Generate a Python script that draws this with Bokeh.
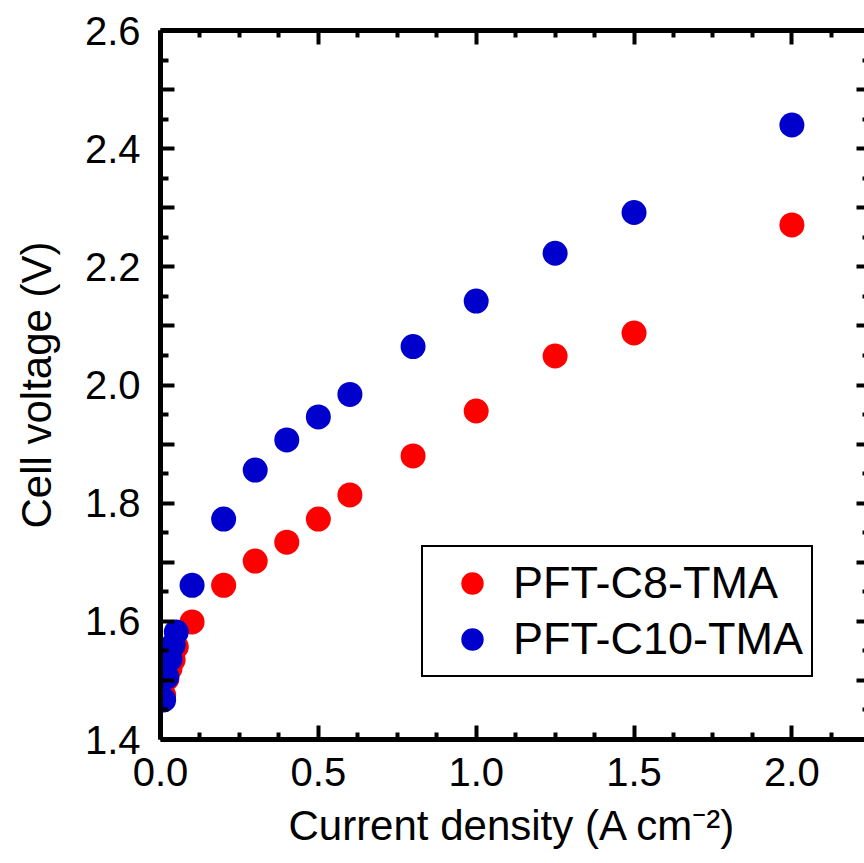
from bokeh.plotting import figure
from bokeh.models import Range1d, FixedTicker, LinearAxis, Legend, LegendItem
from bokeh.embed import file_html
from bokeh.resources import INLINE

# ---- data ----
current_c8 = [0.01, 0.02, 0.03, 0.04, 0.05, 0.1, 0.2, 0.3, 0.4, 0.5, 0.6, 0.8, 1.0, 1.25, 1.5, 2.0]
voltage_c8 = [1.475, 1.503, 1.52, 1.535, 1.557, 1.599, 1.661, 1.702, 1.734, 1.773, 1.814, 1.880, 1.956, 2.049, 2.088, 2.271]
current_c10 = [0.01, 0.02, 0.03, 0.04, 0.05, 0.1, 0.2, 0.3, 0.4, 0.5, 0.6, 0.8, 1.0, 1.25, 1.5, 2.0]
voltage_c10 = [1.467, 1.506, 1.536, 1.56, 1.582, 1.661, 1.773, 1.856, 1.907, 1.946, 1.984, 2.065, 2.142, 2.223, 2.292, 2.440]
series_names = ["PFT-C8-TMA", "PFT-C10-TMA"]
series_colors = ["#FF0000", "#0000CC"]

x_major_ticks = [0.0, 0.5, 1.0, 1.5, 2.0]
x_tick_labels = ["0.0", "0.5", "1.0", "1.5", "2.0"]
x_minor_ticks = [0.125, 0.25, 0.375, 0.625, 0.75, 0.875, 1.125, 1.25, 1.375,
                 1.625, 1.75, 1.875, 2.125, 2.25]
y_major_ticks = [1.4, 1.5, 1.6, 1.7, 1.8, 1.9, 2.0, 2.1, 2.2, 2.3, 2.4, 2.5, 2.6]
y_tick_labels = ["1.4", "", "1.6", "", "1.8", "", "2.0", "", "2.2", "", "2.4", "", "2.6"]
y_minor_ticks = [1.45, 1.55, 1.65, 1.75, 1.85, 1.95, 2.05, 2.15, 2.25, 2.35, 2.45, 2.55]

x_label = "Current density (A cm\u207b\u00b2)"
y_label = "Cell voltage (V)"

FONT = "Liberation Sans"

p = figure(width=864, height=863, output_backend="svg", toolbar_location=None,
           x_range=Range1d(0, 2.23), y_range=Range1d(1.4, 2.6),
           min_border_left=160, min_border_right=0, min_border_top=30, min_border_bottom=124)
p.outline_line_color = None
p.xgrid.visible = False
p.ygrid.visible = False
p.background_fill_color = "white"
p.border_fill_color = "white"

xticker = FixedTicker(ticks=x_major_ticks, minor_ticks=x_minor_ticks)
yticker = FixedTicker(ticks=y_major_ticks, minor_ticks=y_minor_ticks)


def style_axis(ax, major_in, minor_in, show_labels, line=True):
    ax.axis_line_width = 5
    ax.axis_line_color = "black" if line else None
    ax.major_tick_line_width = 4
    ax.minor_tick_line_width = 4
    ax.major_tick_in = major_in
    ax.major_tick_out = 0
    ax.minor_tick_in = minor_in
    ax.minor_tick_out = 0
    ax.major_tick_line_cap = "butt"
    ax.minor_tick_line_cap = "butt"
    if show_labels:
        ax.major_label_text_font = FONT
        ax.major_label_text_font_size = "40px"
        ax.major_label_text_color = "black"
        ax.axis_label_text_font = FONT
        ax.axis_label_text_font_size = "42px"
        ax.axis_label_text_font_style = "normal"
        ax.axis_label_text_color = "black"
    else:
        ax.major_label_text_font_size = "1px"
        ax.major_label_text_color = None
        ax.major_label_standoff = 0


xa = p.xaxis[0]
xa.ticker = xticker
xa.major_label_overrides = dict(zip(x_major_ticks, x_tick_labels))
style_axis(xa, 14, 7, True)
xa.major_label_standoff = 18
xa.axis_label = x_label
xa.axis_label_standoff = 13

ya = p.yaxis[0]
ya.ticker = yticker
ya.major_label_overrides = dict(zip(y_major_ticks, y_tick_labels))
style_axis(ya, 14, 8, True)
ya.major_label_standoff = 20
ya.axis_label = y_label
ya.axis_label_standoff = 22

top = LinearAxis(ticker=xticker)
style_axis(top, 14, 7, False)
p.add_layout(top, "above")

right = LinearAxis(ticker=yticker)
style_axis(right, 8, 2, False, line=False)
p.add_layout(right, "right")

renderers = []
for xs, ys, c in [(current_c8, voltage_c8, series_colors[0]), (current_c10, voltage_c10, series_colors[1])]:
    r = p.scatter(xs, ys, size=25, fill_color=c, line_color=c, line_width=0)
    renderers.append(r)

legend = Legend(items=[LegendItem(label=n, renderers=[r]) for n, r in zip(series_names, renderers)],
                location=(261, 62))
legend.label_text_font = FONT
legend.label_text_font_size = "45px"
legend.label_text_color = "black"
legend.glyph_width = 82
legend.glyph_height = 56
legend.label_height = 56
legend.spacing = 0
legend.padding = 8
legend.margin = 0
legend.label_standoff = 0
legend.border_line_color = "black"
legend.border_line_alpha = 1
legend.border_line_width = 2
legend.background_fill_color = "white"
legend.background_fill_alpha = 1
p.add_layout(legend, "center")

open("out.html", "w").write(file_html(p, INLINE))
